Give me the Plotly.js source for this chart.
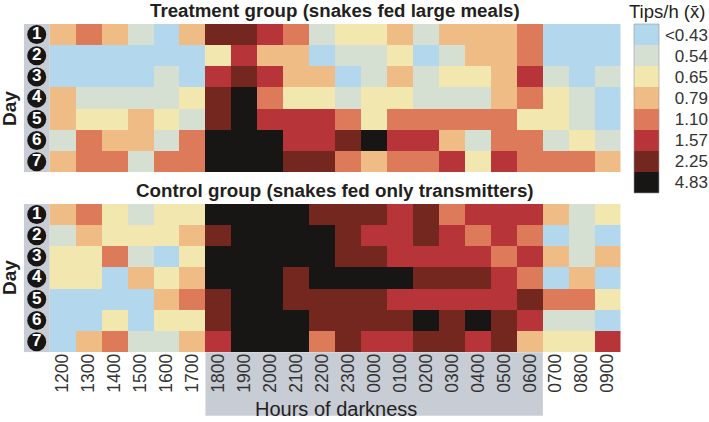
<!DOCTYPE html>
<html><head><meta charset="utf-8">
<script src="https://cdn.plot.ly/plotly-3.0.1.min.js"></script>
<style>html,body{margin:0;padding:0;background:#fff}</style></head>
<body><div id="chart" style="width:709px;height:422px"></div>
<script>
const hours = ["1200","1300","1400","1500","1600","1700","1800","1900","2000","2100","2200","2300","0000","0100","0200","0300","0400","0500","0600","0700","0800","0900"];
const days = ["1","2","3","4","5","6","7"];
const levelLabels = ["<0.43","0.54","0.65","0.79","1.10","1.57","2.25","4.83"];
const levelColors = ["#b3d8ee","#d6e0d2","#f3e7b0","#f0bc85","#dd7a5a","#b73538","#73271e","#181515"];
const treatment = [
 [3,4,3,1,0,3,6,6,5,4,1,2,2,3,1,3,3,3,4,0,0,0],
 [0,0,0,0,0,0,2,5,3,3,0,1,1,2,0,1,3,3,4,0,0,0],
 [0,0,0,0,1,0,5,6,5,3,3,0,1,3,1,2,2,3,5,1,0,1],
 [3,1,1,1,1,2,6,7,4,2,2,1,2,2,1,1,1,3,4,2,1,0],
 [3,2,2,3,2,1,6,7,5,5,5,4,2,4,4,4,4,4,2,2,1,0],
 [1,4,3,3,1,4,7,7,7,5,5,6,7,5,5,3,1,4,4,1,2,1],
 [3,4,4,1,4,4,7,7,7,6,6,4,3,4,4,5,2,5,4,4,4,3]
];
const control = [
 [3,4,2,1,2,2,7,7,7,7,6,6,6,5,6,4,5,5,5,3,1,2],
 [1,3,2,2,2,3,6,7,7,7,7,6,5,5,6,5,4,5,4,0,1,0],
 [2,2,4,1,0,2,7,7,7,7,7,6,6,5,5,5,5,4,5,3,1,3],
 [2,2,0,3,2,3,7,7,7,6,7,7,7,7,6,6,6,5,4,0,3,0],
 [0,0,0,0,3,4,6,7,7,6,6,6,6,5,5,5,5,5,6,4,4,2],
 [0,0,2,0,2,2,6,7,7,7,6,6,6,6,7,6,7,6,5,1,1,0],
 [0,3,4,1,1,3,5,7,7,7,4,6,5,5,6,6,5,6,3,2,2,5]
];
const W=709,H=422,FONT='"Liberation Sans", Arial, sans-serif',GRAY='#c8ccd5';
const px=v=>v/W, py=v=>1-v/H;
const n=levelColors.length;
const scale=[];
levelColors.forEach((c,i)=>{scale.push([i/n,c]);scale.push([(i+1)/n,c]);});
const xi=hours.map((_,i)=>i), yi=days.map((_,i)=>i);
const heat=(z,xa,ya)=>({type:'heatmap',z:z,x:xi,y:yi,xaxis:xa,yaxis:ya,colorscale:scale,zmin:-0.5,zmax:n-0.5,showscale:false,hoverinfo:'skip',xgap:0,ygap:0});
const badges=(xa,ya)=>({type:'scatter',mode:'markers+text',x:days.map(()=>-1),y:yi,text:days,xaxis:xa,yaxis:ya,
  marker:{size:19,color:'#181515'},textposition:'middle center',textfont:{family:FONT,size:17,color:'#fff',weight:700},hoverinfo:'skip',showlegend:false});
const traces=[
  heat(treatment,'x','y'),badges('x','y'),
  heat(control,'x2','y2'),badges('x2','y2'),
  {type:'heatmap',z:levelLabels.map((_,i)=>[i]),x:[0],y:levelLabels.map((_,i)=>i),xaxis:'x3',yaxis:'y3',colorscale:scale,zmin:-0.5,zmax:n-0.5,showscale:false,hoverinfo:'skip'}
];
const xBase={range:[-1.5,21.5],showgrid:false,zeroline:false,showline:false,fixedrange:true};
const yBase={range:[6.5,-0.5],showgrid:false,zeroline:false,showline:false,showticklabels:false,ticks:'',fixedrange:true};
const xDom=[px(23.75),px(620.7)];
const text=(t,x,y,size,bold,extra)=>Object.assign({text:t,xref:'paper',yref:'paper',x:px(x),y:py(y),showarrow:false,xanchor:'center',yanchor:'middle',
  font:{family:FONT,size:size,color:'#231f20',weight:bold?700:400}},extra||{});
const strip=(xr,yr)=>({type:'rect',xref:xr,yref:yr,x0:-1.5,x1:-0.5,y0:-0.5,y1:6.5,fillcolor:GRAY,line:{width:0},layer:'below'});
const layout={width:W,height:H,margin:{l:0,r:0,t:0,b:0},paper_bgcolor:'#fff',plot_bgcolor:'rgba(0,0,0,0)',showlegend:false,
  xaxis:Object.assign({},xBase,{domain:xDom,anchor:'y',showticklabels:false,ticks:''}),
  yaxis:Object.assign({},yBase,{domain:[py(172.3),py(24)],anchor:'x'}),
  xaxis2:Object.assign({},xBase,{domain:xDom,anchor:'y2',tickmode:'array',tickvals:xi,ticktext:hours,tickangle:-90,ticks:'',ticklabelstandoff:-3,
     tickfont:{family:FONT,size:17.5,color:'#333'}}),
  yaxis2:Object.assign({},yBase,{domain:[py(352.3),py(204)],anchor:'x2'}),
  xaxis3:{domain:[px(634),px(659)],anchor:'y3',range:[-0.5,0.5],showgrid:false,zeroline:false,showticklabels:false,ticks:'',fixedrange:true},
  yaxis3:{domain:[py(193),py(24)],range:[7.5,-0.5],anchor:'free',overlaying:false,position:0.9985,side:'left',tickmode:'array',tickvals:levelLabels.map((_,i)=>i),ticktext:levelLabels,ticks:'',
     showgrid:false,zeroline:false,showline:false,tickfont:{family:FONT,size:17,color:'#333'},fixedrange:true},
  shapes:[
    strip('x','y'),strip('x2','y2'),
    {type:'rect',xref:'x2',yref:'paper',x0:5.5,x1:18.5,y0:py(415.7),y1:py(352.3),fillcolor:GRAY,line:{width:0},layer:'below'},
    {type:'rect',xref:'paper',yref:'paper',x0:px(634),x1:px(659),y0:py(193),y1:py(24),line:{width:0.6,color:'#999'},layer:'above'}
  ],
  annotations:[
    text('Treatment group (snakes fed large meals)',335,10,18.7,true),
    text('Control group (snakes fed only transmitters)',335,190,18.8,true),
    text('Day',9,109,19,true,{textangle:-90}),
    text('Day',9,278,19,true,{textangle:-90}),
    text('Hours of darkness',336,408.5,20,false),
    text('Tips/h (x\u0304)',666.5,12,18.5,false)
  ]
};
Plotly.newPlot('chart',traces,layout,{displayModeBar:false,staticPlot:true});
</script></body></html>
